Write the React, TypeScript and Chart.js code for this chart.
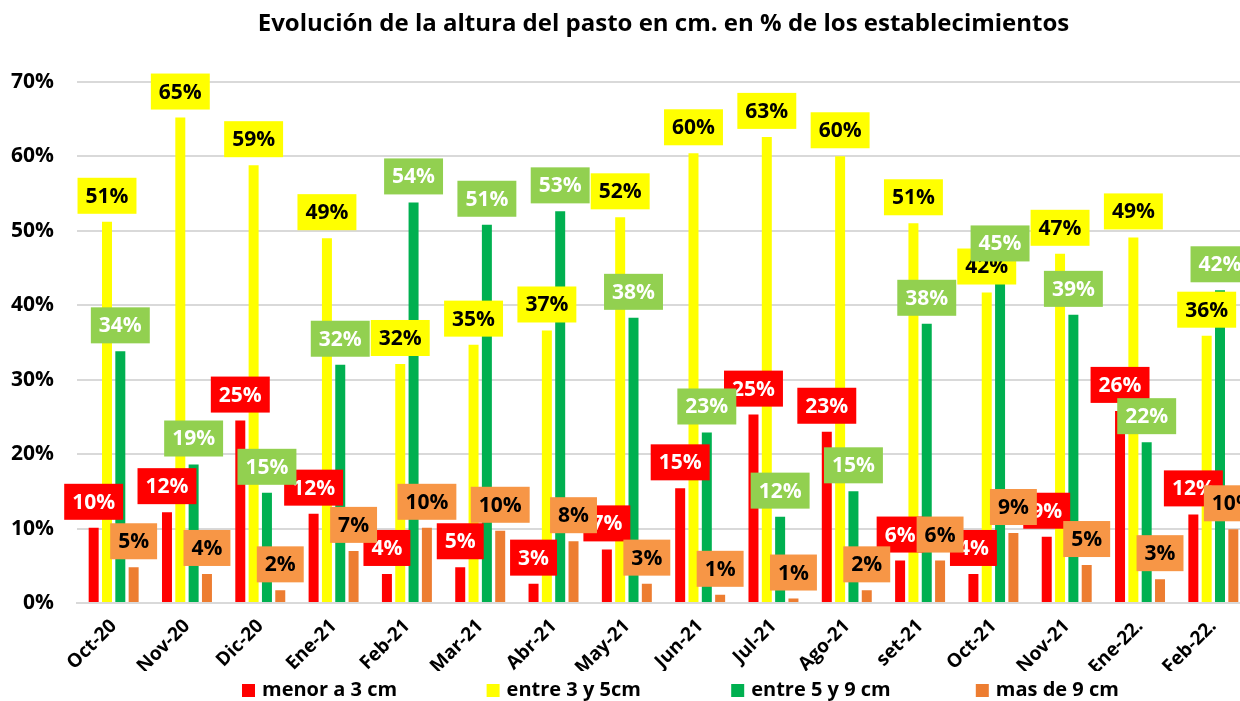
import React, { useEffect, useRef } from "react";
import { Chart, registerables } from "chart.js";

Chart.register(...registerables);

const chartTitle = "Evolución de la altura del pasto en cm. en % de los establecimientos";
const categories = ["Oct-20", "Nov-20", "Dic-20", "Ene-21", "Feb-21", "Mar-21", "Abr-21", "May-21", "Jun-21", "Jul-21", "Ago-21", "set-21", "Oct-21", "Nov-21", "Ene-22.", "Feb-22."];
const seriesNames = ["menor a 3 cm", "entre 3 y 5cm", "entre 5 y 9 cm", "mas de 9 cm"];
const menor3 = [10.1, 12.2, 24.5, 12.0, 3.9, 4.8, 2.6, 7.2, 15.4, 25.3, 23.0, 5.7, 3.9, 8.9, 25.8, 11.9];
const entre3y5 = [51.2, 65.2, 58.8, 49.0, 32.1, 34.7, 36.6, 51.8, 60.4, 62.6, 60.0, 51.0, 41.7, 46.9, 49.1, 35.9];
const entre5y9 = [33.8, 18.6, 14.8, 32.0, 53.8, 50.8, 52.6, 38.3, 22.9, 11.6, 15.0, 37.5, 44.8, 38.7, 21.6, 42.0];
const mas9 = [4.8, 3.9, 1.7, 7.0, 10.1, 9.7, 8.3, 2.6, 1.1, 0.6, 1.7, 5.7, 9.4, 5.1, 3.2, 9.9];
const yTicks = [0, 10, 20, 30, 40, 50, 60, 70];

const barColors = ["#FF0000", "#FFFF00", "#00B050", "#ED7D31"];
const labelBg = ["#FF0000", "#FFFF00", "#92D050", "#F79646"];
const labelFg = ["#FFFFFF", "#000000", "#FFFFFF", "#000000"];
const FONT = "'Open Sans', 'DejaVu Sans', sans-serif";

const labelPlugin = {
  id: "boxLabels",
  afterDatasetsDraw(chart: any) {
    const ctx = chart.ctx;
    ctx.save();
    ctx.font = `bold 21px ${FONT}`;
    ctx.textAlign = "center";
    ctx.textBaseline = "middle";
    chart.data.datasets.forEach((ds: any, di: number) => {
      const meta = chart.getDatasetMeta(di);
      meta.data.forEach((el: any, i: number) => {
        const v = ds.data[i];
        const txt = Math.round(v) + "%";
        const w = ctx.measureText(txt).width + 16;
        const h = 36;
        const bottom = el.y - 8;
        ctx.fillStyle = labelBg[di];
        ctx.fillRect(el.x - w / 2, bottom - h, w, h);
        ctx.fillStyle = labelFg[di];
        ctx.fillText(txt, el.x, bottom - h / 2 + 1);
      });
    });
    ctx.restore();
  },
};

const legendPlugin = {
  id: "slotLegend",
  afterDraw(chart: any) {
    const ctx = chart.ctx;
    ctx.save();
    ctx.font = `bold 20px ${FONT}`;
    ctx.textAlign = "left";
    ctx.textBaseline = "middle";
    const cy = 690;
    seriesNames.forEach((name, i) => {
      const x = 242 + i * 244.6;
      ctx.fillStyle = barColors[i];
      ctx.fillRect(x, cy - 6, 13, 13);
      ctx.fillStyle = "#000";
      ctx.fillText(name, x + 20, cy);
    });
    ctx.restore();
  },
};

export default function App() {
  const ref = useRef<HTMLCanvasElement | null>(null);
  useEffect(() => {
    if (!ref.current) return;
    const chart = new Chart(ref.current, {
      type: "bar",
      data: {
        labels: categories,
        datasets: [menor3, entre3y5, entre5y9, mas9].map((d, i) => ({
          label: seriesNames[i],
          data: d,
          backgroundColor: barColors[i],
          borderWidth: 0,
          categoryPercentage: 0.727,
          barPercentage: 0.75,
        })),
      },
      options: {
        responsive: false,
        animation: false,
        devicePixelRatio: 1,
        layout: { padding: { left: 0, right: 10, top: 0, bottom: 30 } },
        plugins: {
          legend: { display: false },
          tooltip: { enabled: false },
          title: {
            display: true,
            text: chartTitle,
            fullSize: false,
            color: "#000",
            font: { family: FONT, size: 24, weight: "bold", lineHeight: 1.2 },
            padding: { top: 10, bottom: 43 },
          },
        },
        scales: {
          x: {
            grid: { display: false, drawTicks: false },
            border: { display: true, color: "#D9D9D9", width: 2 },
            ticks: {
              autoSkip: false,
              minRotation: 45,
              maxRotation: 45,
              padding: 12,
              color: "#000",
              font: { family: FONT, size: 19, weight: "bold" },
            },
            afterFit: (s: any) => {
              s.height = 68;
            },
          },
          y: {
            min: 0,
            max: 70,
            afterBuildTicks: (s: any) => {
              s.ticks = yTicks.map((v) => ({ value: v }));
            },
            grid: { color: "#D9D9D9", lineWidth: 2, drawTicks: false },
            border: { display: false },
            ticks: {
              padding: 23,
              color: "#000",
              font: { family: FONT, size: 21, weight: "bold" },
              callback: (v: any) => v + "%",
            },
            afterFit: (s: any) => {
              s.width = 77;
            },
          },
        },
      },
      plugins: [labelPlugin, legendPlugin],
    });
    return () => chart.destroy();
  }, []);
  return (
    <div style={{ position: "fixed", left: 0, top: 0, width: 1240, height: 701, overflow: "hidden", background: "#fff" }}>
      <canvas ref={ref} width={1260} height={701} style={{ display: "block" }} />
    </div>
  );
}
